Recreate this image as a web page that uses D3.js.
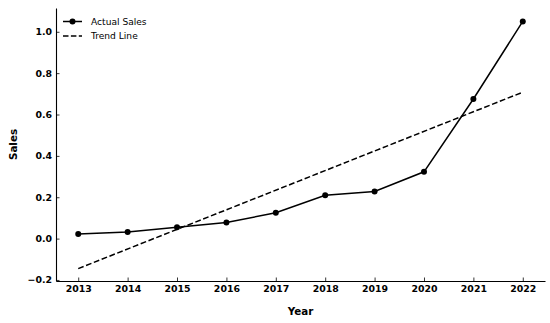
<!DOCTYPE html>
<html>
<head>
<meta charset="utf-8">
<script src="https://cdn.jsdelivr.net/npm/d3@7"></script>
<style>
  body { margin: 0; background: #fff; }
  svg text { font-family: "DejaVu Sans", sans-serif; }
</style>
</head>
<body>
<script>
var years = [2013, 2014, 2015, 2016, 2017, 2018, 2019, 2020, 2021, 2022];
var sales = [0.022, 0.032, 0.055, 0.078, 0.125, 0.21, 0.228, 0.323, 0.675, 1.05];
var trendYears = [2013, 2022];
var trendValues = [-0.145, 0.708];
var yTicks = [-0.2, 0.0, 0.2, 0.4, 0.6, 0.8, 1.0];

var width = 550, height = 323;
var margin = {left: 56, right: 5, top: 8, bottom: 42};

var svg = d3.select("body").append("svg")
    .attr("width", width)
    .attr("height", height);

var x = d3.scaleLinear()
    .domain([2012.55, 2022.45])
    .range([margin.left, width - margin.right]);

var y = d3.scaleLinear()
    .domain([-0.205, 1.115])
    .range([height - margin.bottom, margin.top]);

// axes, ticks pointing inward
var xAxis = d3.axisBottom(x).tickValues(years).tickFormat(d3.format("d"))
    .tickSizeInner(-3.5).tickSizeOuter(0).tickPadding(4);
var yAxis = d3.axisLeft(y).tickValues(yTicks)
    .tickFormat(function (d) { return d < 0 ? "\u2212" + d3.format(".1f")(-d) : d3.format(".1f")(d); })
    .tickSizeInner(-3.5).tickSizeOuter(0).tickPadding(4);

var gx = svg.append("g")
    .attr("transform", "translate(0," + (height - margin.bottom) + ")")
    .call(xAxis);
var gy = svg.append("g")
    .attr("transform", "translate(" + margin.left + ",0)")
    .call(yAxis);

[gx, gy].forEach(function (g) {
    g.attr("font-family", null).attr("font-size", null);
    g.selectAll("text")
        .attr("fill", "#000")
        .style("font-size", "9.4px")
        .style("font-weight", "bold");
    g.selectAll("line").attr("stroke", "#000").attr("stroke-width", 0.8);
    g.select(".domain").attr("stroke", "#000").attr("stroke-width", 1.1);
});

svg.append("text")
    .attr("x", (margin.left + width - margin.right) / 2)
    .attr("y", 315)
    .attr("text-anchor", "middle")
    .style("font-size", "10.3px")
    .style("font-weight", "bold")
    .text("Year");

svg.append("text")
    .attr("transform", "translate(16.5," + ((margin.top + height - margin.bottom) / 2) + ") rotate(-90)")
    .attr("text-anchor", "middle")
    .style("font-size", "10.3px")
    .style("font-weight", "bold")
    .text("Sales");

// trend line
var trendLine = d3.line()
    .x(function (d, i) { return x(trendYears[i]); })
    .y(function (d) { return y(d); });

svg.append("path")
    .datum(trendValues)
    .attr("d", trendLine)
    .attr("fill", "none")
    .attr("stroke", "#000")
    .attr("stroke-width", 1.5)
    .attr("stroke-dasharray", "5.8,2.6");

// actual sales
var salesLine = d3.line()
    .x(function (d, i) { return x(years[i]); })
    .y(function (d) { return y(d); });

svg.append("path")
    .datum(sales)
    .attr("d", salesLine)
    .attr("fill", "none")
    .attr("stroke", "#000")
    .attr("stroke-width", 1.5);

svg.selectAll(".dot")
    .data(sales)
    .enter().append("circle")
    .attr("class", "dot")
    .attr("cx", function (d, i) { return x(years[i]); })
    .attr("cy", function (d) { return y(d); })
    .attr("r", 3)
    .attr("fill", "#000");

// legend
var legend = svg.append("g").attr("transform", "translate(63,21.5)");
legend.append("line").attr("x1", 0).attr("x2", 19).attr("y1", 0).attr("y2", 0)
    .attr("stroke", "#000").attr("stroke-width", 1.5);
legend.append("circle").attr("cx", 9.5).attr("cy", 0).attr("r", 3).attr("fill", "#000");
legend.append("text").attr("x", 28).attr("y", 3.3).style("font-size", "9.1px").text("Actual Sales");
legend.append("line").attr("x1", 0).attr("x2", 19).attr("y1", 14.5).attr("y2", 14.5)
    .attr("stroke", "#000").attr("stroke-width", 1.5).attr("stroke-dasharray", "5.5,2.4");
legend.append("text").attr("x", 28).attr("y", 17.8).style("font-size", "9.1px").text("Trend Line");
</script>
</body>
</html>
